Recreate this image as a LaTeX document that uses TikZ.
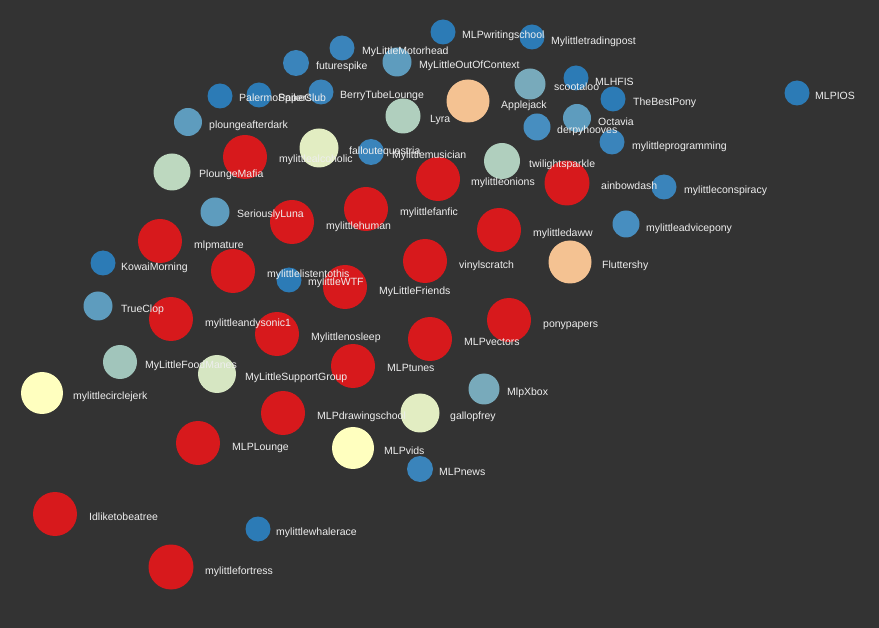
\documentclass[tikz,border=0pt]{standalone}
\usepackage{fontspec}
\setmainfont{Liberation Sans}
\usepackage{tikz}
\definecolor{bg}{HTML}{333333}
\definecolor{txt}{HTML}{EEEEEE}
\definecolor{red}{HTML}{D7191C}
\definecolor{blueA}{HTML}{2C7BB6}
\definecolor{blueB}{HTML}{3A84BB}
\definecolor{blueC}{HTML}{478EC0}
\definecolor{blueD}{HTML}{5E9CBE}
\definecolor{blueE}{HTML}{78AABB}
\definecolor{greenA}{HTML}{A1C5BB}
\definecolor{greenB}{HTML}{B0CFBE}
\definecolor{greenC}{HTML}{BDD8BF}
\definecolor{greenD}{HTML}{D6E6C2}
\definecolor{greenE}{HTML}{E2EDC2}
\definecolor{yellow}{HTML}{FFFFBF}
\definecolor{peach}{HTML}{F4C292}

\begin{document}
\begin{tikzpicture}[x=1pt,y=-1pt,
    bubble/.style={circle,inner sep=0pt,draw=none,minimum size=#1},
    lbl/.style={anchor=west,inner sep=0pt,text=txt,text height=7.5pt,text depth=0.5pt,
      font=\fontsize{10.5}{12}\selectfont}]
  \fill[bg] (0,0) rectangle (879,628);
  \useasboundingbox (0,0) rectangle (879,628);

  % subreddits, size and colour by the same value
  \foreach \n/\x/\y/\d/\c in {
      writing/443/32/25/blueA, trading/532/37/25/blueA, motorhead/342/48/25/blueB,
      futurespike/296/63/26/blueB, outofcontext/397/62/29/blueD, palermo/220/96/25/blueA,
      spikeclub/259/95/25/blueA, berrytube/321/92/25/blueB, lyra/403/116/35/greenB,
      applejack/468/101/43/peach, scootaloo/530/84/31/blueE, mlhfis/576/78/25/blueA,
      bestpony/613/99/25/blueA, octavia/577/118/28/blueD, derpy/537/127/27/blueC,
      programming/612/142/25/blueB, twilight/502/161/36/greenB, rainbow/567/183/45/red,
      conspiracy/664/187/25/blueB, advice/626/224/27/blueC, fluttershy/570/262/43/peach,
      mlpios/797/93/25/blueA, afterdark/188/122/28/blueD, alcoholic/245/157/44/red,
      fallout/319/148/39/greenE, musician/371/152/26/blueB, mafia/172/172/37/greenC,
      luna/215/212/29/blueD, mature/160/241/44/red, kowai/103/263/25/blueA,
      listen/233/271/44/red, trueclop/98/306/29/blueD, andysonic/171/319/44/red,
      nosleep/277/334/44/red, human/292/222/44/red, fanfic/366/209/44/red,
      onions/438/179/44/red, daww/499/230/44/red, vinyl/425/261/44/red,
      friends/345/287/44/red, wtf/289/280/25/blueA, ponypapers/509/320/44/red,
      vectors/430/339/44/red, tunes/353/366/44/red, xbox/484/389/31/blueE,
      gallopfrey/420/413/39/greenE, drawing/283/413/44/red, vids/353/448/42/yellow,
      news/420/469/26/blueB, foodmanes/120/362/34/greenA, support/217/374/38/greenD,
      circlejerk/42/393/42/yellow, lounge/198/443/44/red, beatree/55/514/44/red,
      whalerace/258/529/25/blueA, fortress/171/567/45/red}
    \node[bubble=\d,fill=\c] (\n) at (\x,\y) {};

  % names
  \foreach \n/\x/\y/\t in {
      writing/462/35/MLPwritingschool, trading/551/41/Mylittletradingpost,
      motorhead/362/51/MyLittleMotorhead, futurespike/316/66/futurespike,
      outofcontext/419/65/MyLittleOutOfContext, palermo/239/98/PalermoPapers,
      spikeclub/278/98/SpikeClub, berrytube/340/95/BerryTubeLounge,
      lyra/430/119/Lyra, applejack/501/105/Applejack, scootaloo/554/87/scootaloo,
      mlhfis/595/82/MLHFIS, bestpony/633/102/TheBestPony, octavia/598/122/Octavia,
      derpy/557/130/derpyhooves, programming/632/146/mylittleprogramming,
      twilight/529/164/twilightsparkle, rainbow/601/186/ainbowdash,
      conspiracy/684/190/mylittleconspiracy, advice/646/228/mylittleadvicepony,
      fluttershy/602/265/Fluttershy, mlpios/815/96/MLPIOS,
      afterdark/209/125/ploungeafterdark, alcoholic/279/159/mylittlealcoholic,
      fallout/349/151/falloutequestria, musician/392/155/Mylittlemusician,
      mafia/199/174/PloungeMafia, luna/237/214/SeriouslyLuna, mature/194/245/mlpmature,
      kowai/121/267/KowaiMorning, listen/267/274/mylittlelistentothis,
      wtf/308/282/mylittleWTF, trueclop/121/309/TrueClop,
      andysonic/205/323/mylittleandysonic1, nosleep/311/337/Mylittlenosleep,
      human/326/226/mylittlehuman, fanfic/400/212/mylittlefanfic,
      onions/471/182/mylittleonions, daww/533/233/mylittledaww,
      vinyl/459/265/vinylscratch, friends/379/291/MyLittleFriends,
      ponypapers/543/324/ponypapers, vectors/464/342/MLPvectors, tunes/387/368/MLPtunes,
      xbox/507/392/MlpXbox, gallopfrey/450/416/gallopfrey,
      drawing/317/416/MLPdrawingschool, vids/384/451/MLPvids, news/439/472/MLPnews,
      foodmanes/145/365/MyLittleFoodManes, support/245/377/MyLittleSupportGroup,
      circlejerk/73/396/mylittlecirclejerk, lounge/232/447/MLPLounge,
      beatree/89/517/Idliketobeatree, whalerace/276/532/mylittlewhalerace,
      fortress/205/571/mylittlefortress}
    \node[lbl] (\n-name) at (\x,\y) {\t};
\end{tikzpicture}
\end{document}
